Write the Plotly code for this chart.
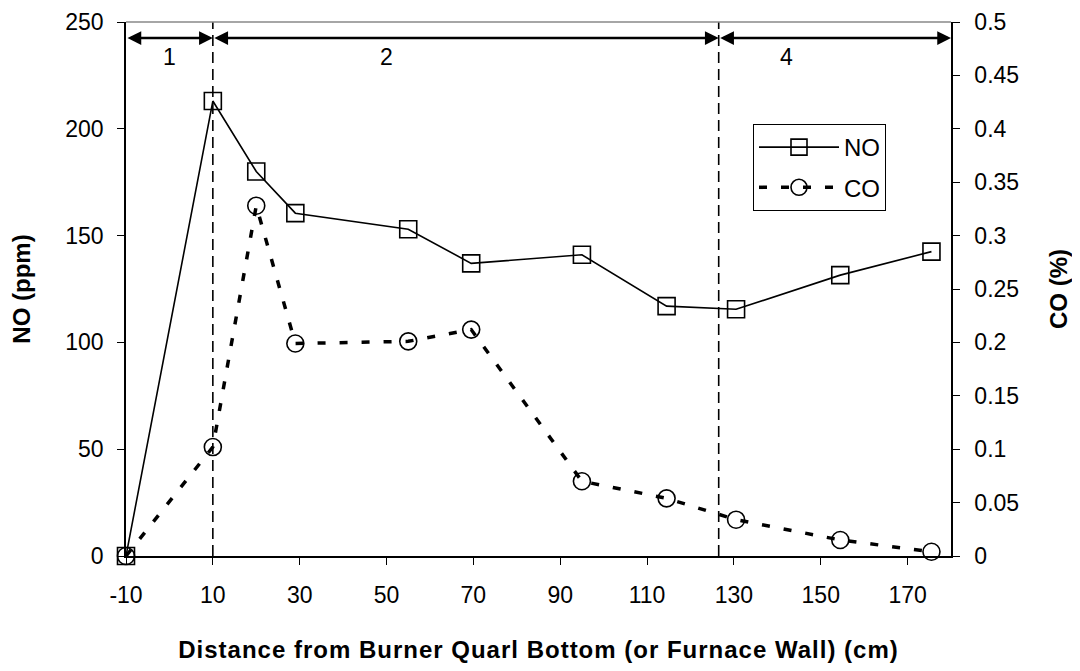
import plotly.graph_objects as go

# Data
distance_no = [-10, 10, 20, 29, 55, 69.5, 95, 114.5, 130.5, 154.5, 175.5]
no_ppm = [0, 213, 180, 160.5, 153, 137, 141, 117, 115.5, 131.5, 142.5]
distance_co = [-10, 10, 20, 29, 55, 69.5, 95, 114.5, 130.5, 154.5, 175.5]
co_pct = [0, 0.102, 0.328, 0.199, 0.201, 0.212, 0.07, 0.054, 0.034, 0.015, 0.004]

zone_bounds = [-10, 10, 126.5, 180]   # zone arrows & dashed dividers
zone_labels = ["1", "2", "4"]
zone_label_x = [0, 50, 142]
arrow_level = 242.5
label_level = 233.5

x_ticks = [-10, 10, 30, 50, 70, 90, 110, 130, 150, 170]
x_tick_text = [str(v) for v in x_ticks]

FONT = "Liberation Sans, Arial, sans-serif"
TICK_SIZE = 23
TITLE_SIZE = 24


def spaced_bold(text, spacing):
    return f"<span style='letter-spacing:{spacing}px'><b>{text}</b></span>"


fig = go.Figure()
fig.add_trace(go.Scatter(
    x=distance_no, y=no_ppm, name="NO", mode="lines+markers", legendgroup="no",
    line=dict(color="black", width=1.6), cliponaxis=False,
    marker=dict(symbol="square-open", size=17, color="black", line=dict(width=1.6)),
    yaxis="y",
))
fig.add_trace(go.Scatter(
    x=distance_co, y=co_pct, name="CO", mode="lines+markers", legendgroup="co",
    line=dict(color="black", width=3.5, dash="8px,14px"), cliponaxis=False,
    marker=dict(symbol="circle-open", size=17, color="black", line=dict(width=1.6)),
    yaxis="y2",
))

shapes = []
for b in zone_bounds[1:-1]:
    shapes.append(dict(type="line", xref="x", yref="paper", x0=b, x1=b, y0=0, y1=1,
                       line=dict(color="black", width=1.6, dash="11px,6px")))
shapes.append(dict(type="line", xref="paper", yref="paper", x0=0, x1=1, y0=1, y1=1,
                   line=dict(color="#888888", width=1.5)))

annotations = []
for i in range(len(zone_bounds) - 1):
    annotations.append(dict(
        x=zone_bounds[i + 1], y=arrow_level, ax=zone_bounds[i], ay=arrow_level,
        xref="x", yref="y", axref="x", ayref="y", text="",
        showarrow=True, arrowhead=2, startarrowhead=2, arrowside="end+start",
        arrowsize=1.1, startarrowsize=1.1, arrowwidth=2.5, arrowcolor="black",
        standoff=0, startstandoff=0,
    ))
    annotations.append(dict(
        x=zone_label_x[i], y=label_level, xref="x", yref="y", text=zone_labels[i],
        showarrow=False, font=dict(family=FONT, size=TICK_SIZE, color="black"),
    ))

# the page body has an 8px margin; size the figure to sit inside the window
fig.update_layout(
    width=1064, height=655,
    margin=dict(l=118, r=121, t=14, b=107),
    paper_bgcolor="white", plot_bgcolor="white",
    font=dict(family=FONT, size=TICK_SIZE, color="black"),
    showlegend=True,
    legend=dict(x=0.76, y=0.809, xanchor="left", yanchor="top",
                bordercolor="black", borderwidth=1, bgcolor="white",
                font=dict(family=FONT, size=24, color="black"),
                itemwidth=80, tracegroupgap=6),
    xaxis=dict(range=[-10, 180], tickvals=x_ticks, ticktext=x_tick_text,
               ticks="outside", ticklen=7, ticklabelstandoff=11, automargin=False,
               tickcolor="black", showline=True, linecolor="black", linewidth=1.5,
               showgrid=False, zeroline=False,
               tickfont=dict(family=FONT, size=TICK_SIZE),
               title=dict(text=spaced_bold("Distance from Burner Quarl Bottom (or Furnace Wall) (cm)", 1),
                          font=dict(family=FONT, size=TITLE_SIZE), standoff=43)),
    yaxis=dict(range=[0, 250], dtick=50, ticks="outside", ticklen=7, ticklabelstandoff=9,
               tickcolor="black", automargin=False,
               showline=True, linecolor="black", linewidth=1.5, showgrid=False, zeroline=False,
               tickfont=dict(family=FONT, size=TICK_SIZE),
               title=dict(text="<b>NO (ppm)</b>", font=dict(family=FONT, size=TITLE_SIZE),
                          standoff=31)),
    yaxis2=dict(range=[0, 0.5], dtick=0.05, overlaying="y", side="right", automargin=False,
                ticks="outside", ticklen=7, ticklabelstandoff=10, tickcolor="black",
                showline=True, linecolor="black", linewidth=1.5, showgrid=False, zeroline=False,
                tickfont=dict(family=FONT, size=TICK_SIZE),
                title=dict(text="<b>CO (%)</b>", font=dict(family=FONT, size=TITLE_SIZE),
                           standoff=35)),
    yaxis3=dict(range=[0, 0.5], dtick=0.05, overlaying="y", side="right", automargin=False,
                ticks="inside", ticklen=7, tickcolor="black", showticklabels=False,
                showline=False, showgrid=False, zeroline=False),
    shapes=shapes,
    annotations=annotations,
)

fig.write_html("out.html")
